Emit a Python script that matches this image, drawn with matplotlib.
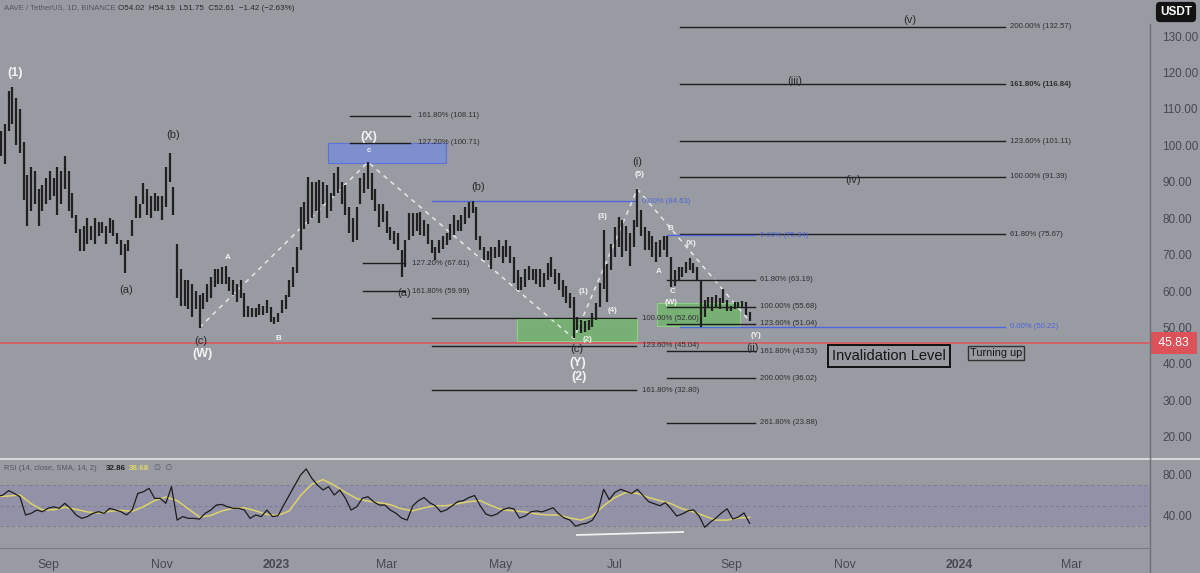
import numpy as np
import matplotlib
matplotlib.use('Agg')
import matplotlib.pyplot as plt
from matplotlib.patches import Rectangle
from matplotlib.lines import Line2D

plt.rcParams['font.family'] = ['Liberation Sans', 'DejaVu Sans']

# ---- data ----
start = np.datetime64('2022-08-05')   # day 0, bars every 2 days
bar_low = [100, 97, 95, 104, 106, 100, 98, 85, 78, 82,
           84, 78, 82, 84, 85, 86, 81, 84, 88, 82,
           80, 76, 71, 71, 73, 74, 73, 75, 76, 73,
           76, 75, 73, 70, 65, 71, 75, 80, 80, 84,
           81, 80, 82, 82, 79.5, 83, 90, 81, 58, 56,
           56, 55, 53, 55, 50, 55, 57, 58, 61, 62,
           62, 62, 60, 59, 57, 58, 53, 53, 53, 53,
           53.5, 53.5, 54, 51.5, 51, 51.5, 54, 55, 58.5, 61,
           65, 71.3, 77, 78.5, 80, 82, 78.7, 84, 80, 82,
           86, 87, 84, 81, 76, 73.6, 74, 84, 87, 88,
           85, 82, 77.6, 79, 76, 74, 73, 71.3, 64, 66.6,
           74, 75, 76.5, 75.5, 75, 73, 70.5, 68.5, 70.5, 71.5,
           72.6, 74, 75.5, 76.5, 76.5, 78.5, 80, 81.5, 74, 71.3,
           68.5, 68.5, 66, 69, 69.5, 67.7, 69.4, 67.7, 62.2, 60.3,
           60.3, 61, 63, 63, 62, 61, 61, 63, 64, 62,
           60.3, 58.4, 56.7, 55.5, 47, 49.3, 48.5, 48.8, 49.3, 50.2,
           52, 55.7, 60.6, 57, 65.8, 69.4, 72, 69.4, 71, 67,
           72, 77.6, 75, 71.3, 71.3, 69.4, 68, 69.4, 71.3, 69.4,
           61, 61.5, 63, 64, 65, 65.8, 65, 63, 50.2, 53,
           55.5, 54.6, 55.5, 55, 56.7, 54.6, 54.6, 55, 55.3, 55.5,
           53.5, 51.75]
bar_high = [106, 104, 106, 115, 116, 113, 110, 101, 92, 94,
            93, 88, 89, 91, 93, 91, 94, 93, 97, 93,
            87, 81, 77, 78, 80, 78, 80, 79, 79, 78,
            80, 79.5, 76, 74, 73, 74, 79.5, 86, 84, 89.7,
            88, 86, 87, 86, 86, 94, 98, 88.6, 73, 66,
            63, 63, 62, 60, 59, 59.5, 62, 64, 66, 66,
            66.5, 67, 64, 63, 62, 63, 59.5, 56, 55.5, 55.5,
            56.5, 56, 57.5, 55.7, 53, 54, 57.6, 59, 63, 66.6,
            72, 83, 84.5, 91.3, 90, 90, 90.5, 90, 89, 87,
            92.4, 94, 90, 89, 83, 80, 83, 91, 92.4, 95.4,
            92.4, 88, 84, 84, 82, 77.5, 76.5, 76, 71.3, 74,
            81.4, 81.4, 81.4, 81.7, 79.5, 78.5, 74, 72, 74, 75,
            76, 78.5, 81, 79.5, 81, 83, 84.5, 84.7, 83, 75,
            72, 71, 72, 72, 74, 72.5, 74, 72.5, 69.4, 65.8,
            64, 66, 67, 66, 66, 66, 65, 67.7, 69.4, 66,
            65, 63, 61.5, 59.5, 58.5, 53, 52.2, 51.8, 52, 54,
            56.7, 62.2, 76.8, 67.5, 73, 77.6, 80.3, 79.5, 78, 76,
            79.5, 88, 82.3, 77.6, 76.5, 75, 73.5, 74, 75, 75,
            69.4, 65.8, 66.6, 66.6, 68, 69, 67.7, 66.6, 63, 57.6,
            58.5, 58.5, 59, 58, 60.6, 57.6, 56, 57, 57, 57.2,
            57, 54.19]
invalidation = 45.83

# RSI every 3 days, its SMA every 6 days
rsi = [59, 60.5, 64.8, 62, 58.8, 41, 42.6, 45.8, 44.2, 47.5,
       49, 47.5, 52.4, 47.5, 41, 37.7, 39.4, 42.6, 44.2, 42.6,
       47.5, 45.8, 44.2, 41, 45.8, 62, 63.6, 67, 57.2, 57.2,
       52.4, 68.6, 36, 39.4, 37.7, 37.7, 37, 42.6, 45.8, 50.7,
       51.3, 49, 47.5, 47.5, 45.8, 37.7, 41, 39.4, 45.8, 39.4,
       40.3, 50.7, 60.5, 70.2, 80, 85.9, 76.8, 70.2, 65.4, 68.6,
       60.5, 65.4, 57.2, 45.8, 49, 57.2, 58.8, 54, 50.7, 50.7,
       45.8, 42.6, 38, 36, 50, 55, 58, 53, 50, 44,
       46, 50, 54, 55, 58, 60, 50, 42, 40, 42,
       46, 48, 47, 38, 40, 44, 45, 44, 46, 48,
       42, 38, 36, 30, 32, 33, 36, 45, 66, 56,
       63, 66, 64, 62, 66, 60, 54, 52, 50, 53,
       47, 40, 42, 45, 46, 40, 29, 34, 38, 43,
       47, 37, 39, 43, 32.86]
rsi_sma = [58.9, 59.5, 60.5, 52, 46, 46, 48.5, 46.5, 44, 42.8,
           44.5, 45.5, 44.5, 49, 55, 58.5, 55, 47, 39, 40.5,
           45, 47.5, 48, 45, 41.5, 40.5, 45, 60, 71, 75.5,
           70, 63, 57, 54.5, 53, 51, 47, 45, 48, 50,
           50, 52, 54, 55, 50, 46, 45, 44, 42, 41,
           41, 38, 36, 40, 50, 58, 63, 62, 58, 55,
           52, 47, 44, 40, 36, 36, 38, 38.68]

tick_dates = ['2022-09-01', '2022-11-01', '2023-01-01', '2023-03-01', '2023-05-01',
              '2023-07-01', '2023-09-01', '2023-11-01', '2024-01-01', '2024-03-01']
tick_labels = ['Sep', 'Nov', '2023', 'Mar', 'May', 'Jul', 'Sep', 'Nov', '2024', 'Mar']
price_ticks = [20, 30, 40, 50, 60, 70, 80, 90, 100, 110, 120, 130]

# fibonacci tools: (pct, level)
fib_right = ([200.0, 161.8, 123.6, 100.0, 61.8], [132.57, 116.84, 101.11, 91.39, 75.67])
fib_mid = ([61.8, 100.0, 123.6, 161.8, 200.0, 261.8], [63.19, 55.68, 51.04, 43.53, 36.02, 23.88])
fib_left = ([100.0, 123.6, 161.8], [52.60, 45.04, 32.80])
fib_up_a = ([161.8, 127.2], [108.11, 100.71])
fib_up_b = ([127.2, 161.8], [67.61, 59.99])
blue_levels = [84.63, 75.34, 50.22]

BG = '#999ba2'
DARK = '#202020'
TXT = '#2e2f33'
AXT = '#474950'
BLUE = '#4f66dc'

bar_days = np.arange(len(bar_low)) * 2
rsi_days = np.arange(len(rsi)) * 3
sma_days = np.arange(len(rsi_sma)) * 6
xlim = (1.35, 1.35 + 1150 / 1.871)

fig = plt.figure(figsize=(12, 5.73), dpi=100)
fig.patch.set_facecolor(BG)
ax = fig.add_axes([0, 115 / 573, 1150 / 1200, 458 / 573])
ax2 = fig.add_axes([0, 25 / 573, 1150 / 1200, 88 / 573])
for a in (ax, ax2):
    a.set_facecolor(BG)
    a.set_xlim(*xlim)
    for s in a.spines.values():
        s.set_visible(False)
    a.yaxis.tick_right()
    a.tick_params(axis='y', length=0, pad=9, labelsize=8.5, labelcolor=AXT)

ax.set_ylim(14.2, 139.9)
ax.set_yticks(price_ticks)
ax.set_yticklabels(['%.2f' % v for v in price_ticks])
ax.set_xticks([])

# boxes
ax.add_patch(Rectangle((176.7, 95.1), 63, 5.5, facecolor='#7c8ed4', edgecolor='#5a6fdc',
                       lw=0.8, alpha=0.9, zorder=1))
ax.add_patch(Rectangle((277.7, 46.3), 64.1, 6.1, facecolor='#6fb56a', edgecolor='#8fdc88',
                       lw=0.8, alpha=0.8, zorder=1))
ax.add_patch(Rectangle((352.5, 50.4), 44.4, 6.3, facecolor='#6fb56a', edgecolor='#8fdc88',
                       lw=0.8, alpha=0.8, zorder=1))

# price bars
ax.vlines(bar_days, bar_low, bar_high, color=DARK, lw=1.6, zorder=3)

# wave path (dashed white) through pivot bars
piv = [(54, 'l'), (99, 'h'), (154, 'l'), (171, 'h'), (201, 'l')]
px = [bar_days[i] for i, _ in piv]
py = [bar_low[i] if k == 'l' else bar_high[i] for i, k in piv]
ax.plot(px, py, color='#e6e6e6', lw=1.1, ls=(0, (3, 3)), zorder=2)

# invalidation line
ax.axhline(invalidation, color='#e0525a', lw=1.1, zorder=4)
ax.text(1.004, invalidation, ' %.2f ' % invalidation, transform=ax.get_yaxis_transform(),
        ha='left', va='center', color='white', fontsize=8.8,
        bbox=dict(boxstyle='square,pad=0.4', fc='#dd5258', ec='none'), clip_on=False)


def fib(group, d0, d1, dl, color='#1e1e1e', bold=None):
    for pct, lv in zip(*group):
        ax.plot([d0, d1], [lv, lv], color=color, lw=1.0, zorder=2)
        ax.text(dl, lv, '%.2f%% (%.2f)' % (pct, lv), color=TXT if color != BLUE else BLUE,
                fontsize=5.6, va='center', ha='left',
                fontweight='bold' if bold == lv else 'normal', zorder=5)


fib(fib_right, 364.8, 538.5, 541.2, bold=116.84)
fib(fib_mid, 357.8, 404.9, 407.6)
fib(fib_left, 232.2, 341.3, 344.5)
fib(fib_up_a, 188.4, 220.5, 224.8)
fib(fib_up_b, 195.4, 217.8, 221.6)
fib(([0.0], [blue_levels[0]]), 232.2, 341.3, 344.5, color=BLUE)
fib(([0.0], [blue_levels[1]]), 357.8, 404.9, 407.6, color=BLUE)
fib(([0.0], [blue_levels[2]]), 364.8, 538.5, 541.2, color=BLUE)

# wave labels
big_white = [('(1)', 9.4, 119.8), ('(W)', 109.8, 42.8), ('(X)', 198.6, 102.3),
             ('(Y)', 310.3, 40.3), ('(2)', 310.8, 36.4)]
dark_lbl = [('(b)', 93.8, 102.8), ('(a)', 68.7, 60.3), ('(c)', 108.8, 46.3),
            ('(b)', 256.8, 88.6), ('(a)', 217.3, 59.5), ('(c)', 309.7, 44.1),
            ('(i)', 341.8, 95.4), ('(ii)', 403.8, 44.4), ('(v)', 487.7, 134.4),
            ('(iii)', 426.3, 117.7), ('(iv)', 457.2, 90.5)]
small_white = [('A', 123.2, 69.1), ('B', 149.9, 47.1), ('c', 198.6, 98.5),
               ('(1)', 313, 59.8), ('(2)', 315.1, 46.6), ('(3)', 323.6, 80.6),
               ('(4)', 328.5, 54.8), ('(5)', 343.4, 91.9), ('B', 359.4, 77.3),
               ('A', 353.6, 65.3), ('C', 361, 59.8), ('(X)', 370.7, 73.2),
               ('(W)', 360, 57), ('(Y)', 405.4, 47.7)]
for t, d, p in big_white:
    ax.text(d, p, t, color='#f2f2f2', fontsize=9, fontweight='bold', ha='center', va='center', zorder=6)
for t, d, p in dark_lbl:
    ax.text(d, p, t, color='#2a2a2a', fontsize=8, ha='center', va='center', zorder=6)
for t, d, p in small_white:
    ax.text(d, p, t, color='#f2f2f2', fontsize=5.8, fontweight='bold', ha='center', va='center', zorder=6)

ax.text(476.5, 42.2, 'Invalidation Level', fontsize=10.5, color='#151515', ha='center', va='center',
        bbox=dict(boxstyle='square,pad=0.25', fc=BG, ec='#111111', lw=1.4), zorder=6)
ax.text(533.7, 43.0, 'Turning up', fontsize=7.8, color='#151515', ha='center', va='center',
        bbox=dict(boxstyle='square,pad=0.2', fc=BG, ec='#333333', lw=1.0), zorder=6)

# RSI pane
ax2.set_ylim(8.8, 94.6)
ax2.axhspan(30, 70, color='#928fa9', alpha=0.8, lw=0)
for lv in (30, 50, 70):
    ax2.axhline(lv, color='#7b7d86', lw=0.7, ls=(0, (3, 3)))
ax2.plot(sma_days, rsi_sma, color='#ddd36a', lw=1.1)
ax2.plot(rsi_days, rsi, color='#1c1c1c', lw=0.9)
ax2.plot([309.7, 366.4], [21.5, 24.4], color='#f0f0f0', lw=1.3)
ax2.set_yticks([40, 80])
ax2.set_yticklabels(['40.00', '80.00'])
tick_days = [(np.datetime64(d) - start).astype(int) for d in tick_dates]
ax2.set_xticks(tick_days)
ax2.set_xticklabels(tick_labels)
ax2.tick_params(axis='x', length=0, pad=8, labelsize=8.8, labelcolor=AXT)
for lab in ax2.get_xticklabels():
    if lab.get_text().isdigit():
        lab.set_fontweight('bold')

# frame lines
fig.add_artist(Line2D([0, 1], [1 - 459 / 573] * 2, transform=fig.transFigure, color='#e4e4e6', lw=1.2))
fig.add_artist(Line2D([0, 1150 / 1200], [1 - 548 / 573] * 2, transform=fig.transFigure, color='#7a7c84', lw=0.8))
fig.add_artist(Line2D([1150 / 1200] * 2, [0, 1 - 24 / 573], transform=fig.transFigure, color='#6e7078', lw=1.0))

# header texts
fig.text(4 / 1200, 1 - 8 / 573, 'AAVE / TetherUS, 1D, BINANCE', fontsize=5.6, color='#55575e', va='center')
fig.text(118 / 1200, 1 - 8 / 573, 'O54.02  H54.19  L51.75  C52.61  \u22121.42 (\u22122.63%)',
         fontsize=5.8, color='#2a2a2a', va='center')
fig.text(4 / 1200, 1 - 468 / 573, 'RSI (14, close, SMA, 14, 2)', fontsize=5.5, color='#55575e', va='center')
fig.text(106 / 1200, 1 - 468 / 573, '32.86', fontsize=5.8, color='#222222', va='center', fontweight='bold')
fig.text(129 / 1200, 1 - 468 / 573, '38.68', fontsize=5.8, color='#e2d56a', va='center', fontweight='bold')
fig.text(154 / 1200, 1 - 468 / 573, '\u2205  \u2205', fontsize=5.8, color='#55575e', va='center')
fig.text(1176 / 1200, 1 - 12 / 573, 'USDT', fontsize=8.5, color='white', fontweight='bold',
         ha='center', va='center', bbox=dict(boxstyle='round,pad=0.35', fc='#131313', ec='none'))

fig.savefig('out.png', dpi=100, facecolor=BG)
